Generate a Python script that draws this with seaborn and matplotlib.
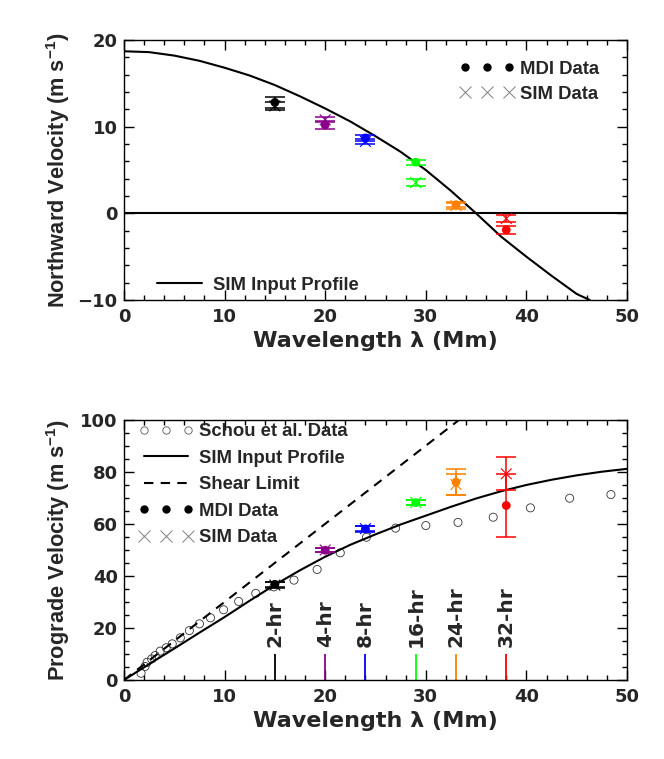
import numpy as np
import pandas as pd
import seaborn as sns
import matplotlib.pyplot as plt
from matplotlib.lines import Line2D
from matplotlib.ticker import MultipleLocator

# ---- data ----
# top panel: SIM input profile (northward velocity)
north_lam = [0, 2.5, 5, 7.5, 10, 12.5, 15, 17.5, 20, 22.5, 25, 27.5, 30, 32.5,
             35, 37.5, 40, 42.5, 45, 46.3]
north_vel = [18.7, 18.6, 18.2, 17.6, 16.8, 15.9, 14.8, 13.5, 12.1, 10.6, 8.9, 7.1,
             5.0, 2.6, 0.0, -2.7, -5.0, -7.2, -9.3, -10.0]

# measurement wavelengths and colours (2, 4, 8, 16, 24, 32 hr)
meas_lam = [15, 20, 24, 29, 33, 38]
meas_colors = ['black', '#8B008B', 'blue', '#00FF00', '#FF8000', 'red']
period_labels = ['2-hr', '4-hr', '8-hr', '16-hr', '24-hr', '32-hr']

north_mdi = [12.8, 10.2, 8.7, 5.9, 1.0, -1.9]
north_mdi_err = [0.6, 0.5, 0.3, 0.3, 0.3, 0.45]
north_sim = [12.4, 10.8, 8.3, 3.55, 0.9, -0.6]
north_sim_err = [0.5, 0.3, 0.3, 0.45, 0.35, 0.4]

# bottom panel: prograde velocity
pro_lam = [0, 2.5, 5, 7.5, 10, 12.5, 15, 17.5, 20, 22.5, 25, 27.5, 30, 32.5,
           35, 37.5, 40, 42.5, 45, 47.5, 50]
pro_vel = [0, 6.1, 12.1, 18.2, 24.2, 30.5, 36.6, 42.2, 47.4, 52.0, 56.0, 59.8,
           63.2, 66.6, 69.8, 72.6, 75.0, 77.0, 78.7, 80.1, 81.2]

shear_lam = [0, 33.3]
shear_vel = [0, 100]

schou_lam = [1.7, 2.1, 2.3, 2.75, 3.1, 3.6, 4.2, 4.8, 5.6, 6.5, 7.5, 8.6, 9.9,
             11.4, 13.1, 14.9, 16.9, 19.2, 21.5, 24.1, 27.0, 30.0, 33.2, 36.7,
             40.4, 44.3, 48.4]
schou_vel = [2.6, 5.2, 6.8, 8.1, 9.4, 11.1, 12.4, 13.9, 16.2, 19.0, 21.6, 23.9,
             27.0, 30.2, 33.3, 35.8, 38.4, 42.5, 48.9, 54.9, 58.4, 59.4, 60.6,
             62.6, 66.2, 69.9, 71.3]

pro_mdi = [36.8, 49.9, 58.1, 68.2, 76.1, 67.1]
pro_mdi_err = [1.0, 0.8, 1.0, 1.0, 5.1, 12.0]
pro_sim = [36.5, 50.0, 58.2, 68.3, 75.2, 79.3]
pro_sim_err = [1.0, 0.8, 1.0, 1.0, 4.2, 6.3]

sns.set_theme(style='ticks')
plt.rcParams['font.family'] = ['Liberation Sans', 'DejaVu Sans']
plt.rcParams['font.weight'] = 'bold'
plt.rcParams['mathtext.fontset'] = 'custom'
plt.rcParams['mathtext.bf'] = 'Liberation Sans:bold'
plt.rcParams['mathtext.rm'] = 'Liberation Sans:bold'
plt.rcParams['mathtext.default'] = 'bf'

fig = plt.figure(figsize=(6.64, 7.59), dpi=100)
ax1 = fig.add_axes([0.1867, 0.6047, 0.7576, 0.3426])
ax2 = fig.add_axes([0.1867, 0.1041, 0.7576, 0.3426])

tick_font = {'family': 'DejaVu Sans', 'weight': 'bold', 'size': 13}
xlab_font = {'family': 'DejaVu Sans', 'weight': 'bold', 'size': 16}
ylab_size = 15.7


def style_axis(ax, ymaj, ymin):
    ax.set_facecolor('white')
    ax.xaxis.set_major_locator(MultipleLocator(10))
    ax.xaxis.set_minor_locator(MultipleLocator(2))
    ax.yaxis.set_major_locator(MultipleLocator(ymaj))
    ax.yaxis.set_minor_locator(MultipleLocator(ymin))
    ax.tick_params(which='both', direction='in', top=True, right=True,
                   color='black', width=1.0)
    ax.tick_params(which='major', length=7.5)
    ax.tick_params(which='minor', length=3.6)
    ax.tick_params(axis='x', which='major', pad=6)
    ax.tick_params(axis='y', which='major', pad=4.5)
    for s in ax.spines.values():
        s.set_visible(True)
        s.set_linewidth(1.0)
        s.set_color('black')
    for lab in ax.get_xticklabels() + ax.get_yticklabels():
        lab.set_fontproperties(tick_font)


def plot_points(ax, mdi, mdi_err, sim, sim_err):
    for lam, m, me, s, se, c in zip(meas_lam, mdi, mdi_err, sim, sim_err, meas_colors):
        ax.errorbar(lam, m, yerr=me, fmt='none', ecolor=c, elinewidth=1.1,
                    capsize=7.5, capthick=1.1, zorder=3)
        ax.errorbar(lam, s, yerr=se, fmt='none', ecolor=c, elinewidth=1.1,
                    capsize=7.5, capthick=1.1, zorder=3)
    df = pd.DataFrame({'lam': meas_lam, 'mdi': mdi, 'sim': sim, 'c': meas_colors})
    pal = dict(zip(meas_colors, meas_colors))
    sns.scatterplot(data=df, x='lam', y='mdi', hue='c', palette=pal,
                    marker='o', s=40, edgecolor='none', legend=False, ax=ax, zorder=4)
    sns.scatterplot(data=df, x='lam', y='sim', hue='c', palette=pal,
                    marker='x', s=60, linewidth=0.8, legend=False, ax=ax, zorder=4)


def set_labels(ax, ylabel):
    ax.set_xlabel('Wavelength λ (Mm)', fontdict=xlab_font)
    ax.set_ylabel(ylabel, fontsize=ylab_size, fontweight='bold')
    ax.yaxis.set_label_coords(-0.104, 0.5)
    ax.xaxis.set_label_coords(0.5, -0.118)


# ---- top panel ----
sns.lineplot(x=north_lam, y=north_vel, sort=False, color='black', lw=1.5, ax=ax1)
ax1.axhline(0, color='black', lw=1.5)
plot_points(ax1, north_mdi, north_mdi_err, north_sim, north_sim_err)
ax1.set_xlim(0, 50)
ax1.set_ylim(-10, 20)
style_axis(ax1, 10, 2)
set_labels(ax1, 'Northward Velocity (m s$^{-1}$)')

h_mdi = Line2D([], [], ls='none', marker='o', color='black', ms=5)
h_sim = Line2D([], [], ls='none', marker='x', color='gray', ms=8.5, mew=0.7)
h_prof = Line2D([], [], ls='-', color='black', lw=1.5)
leg_kw = dict(frameon=False, numpoints=3, handlelength=3.0, handletextpad=0.3,
              borderpad=0, borderaxespad=0, prop={'weight': 'bold', 'size': 13.3})
lg1 = ax1.legend([h_mdi, h_sim], ['MDI Data', 'SIM Data'], loc='upper left',
                 bbox_to_anchor=(0.667, 0.92), labelspacing=0.42, **leg_kw)
ax1.add_artist(lg1)
ax1.legend([h_prof], ['SIM Input Profile'], loc='lower left',
           bbox_to_anchor=(0.055, 0.025), **leg_kw)

# ---- bottom panel ----
sns.scatterplot(x=schou_lam, y=schou_vel, marker='o', s=34, facecolor='none',
                edgecolor='#333333', linewidth=0.6, ax=ax2, zorder=2)
sns.lineplot(x=pro_lam, y=pro_vel, sort=False, color='black', lw=1.5, ax=ax2)
sns.lineplot(x=shear_lam, y=shear_vel, sort=False, color='black', lw=1.5,
             ax=ax2, dashes=False, linestyle=(0, (4.5, 3.5)))
plot_points(ax2, pro_mdi, pro_mdi_err, pro_sim, pro_sim_err)
ax2.vlines(meas_lam, 0, 10, colors=meas_colors, lw=1.3)
for lam, lab in zip(meas_lam, period_labels):
    ax2.text(lam, 12.5, lab, rotation=90, ha='center', va='bottom',
             fontfamily='DejaVu Sans', fontweight='bold', fontsize=14.5)
ax2.set_xlim(0, 50)
ax2.set_ylim(0, 100)
style_axis(ax2, 20, 5)
set_labels(ax2, 'Prograde Velocity (m s$^{-1}$)')

h_schou = Line2D([], [], ls='none', marker='o', mfc='none', mec='#555555', ms=5.3, mew=0.6)
h_shear = Line2D([], [], ls=(0, (4.5, 3.5)), color='black', lw=1.5)
ax2.legend([h_schou, h_prof, h_shear, h_mdi, h_sim],
           ['Schou et al. Data', 'SIM Input Profile', 'Shear Limit', 'MDI Data', 'SIM Data'],
           loc='upper left', bbox_to_anchor=(0.028, 0.988), labelspacing=0.52, **leg_kw)

fig.savefig('out.png', dpi=100, facecolor='white')
